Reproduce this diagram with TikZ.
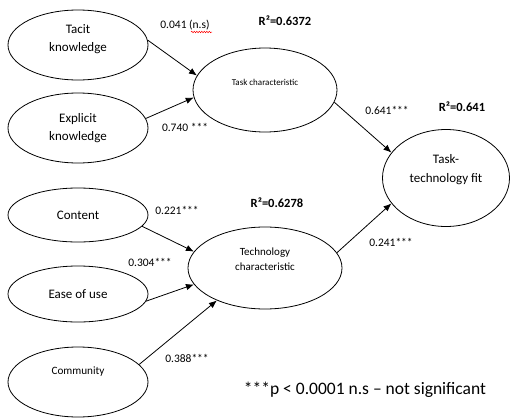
\documentclass[tikz,border=0pt]{standalone}
\usepackage{fontspec}
\setmainfont{Carlito}
\usetikzlibrary{shapes.geometric,arrows.meta,decorations.pathmorphing}
\begin{document}
\begin{tikzpicture}[x=1pt,y=-1pt,
  construct/.style={draw, ellipse, line width=0.8pt, inner sep=0pt, align=center},
  big/.style={font=\fontsize{13}{18}\selectfont},
  coef/.style={font=\fontsize{11.5}{14}\selectfont, inner sep=0pt},
  rsq/.style={font=\bfseries\fontsize{12.5}{15}\selectfont, inner sep=0pt},
  pathway/.style={-{Latex[length=8pt,width=6.5pt]}, line width=0.8pt}]
\useasboundingbox (0,0) rectangle (515,418);
% constructs
\node[construct, big, minimum width=140pt, minimum height=70pt, text depth=13pt] (tacit) at (78,45) {Tacit\\knowledge};
\node[construct, big, minimum width=140pt, minimum height=70pt] (explicit) at (78,128) {Explicit\\knowledge};
\node[construct, font=\fontsize{9}{11}\selectfont, minimum width=144pt, minimum height=84pt, text depth=16pt] (task) at (265,90) {Task characteristic};
\node[construct, font=\fontsize{13}{19}\selectfont, minimum width=127pt, minimum height=97pt, text depth=19pt] (ttf) at (446,178) {Task-\\technology fit};
\node[construct, big, minimum width=140pt, minimum height=54pt] (content) at (78,215) {Content};
\node[construct, big, minimum width=140pt, minimum height=56pt] (ease) at (78,294) {Ease of use};
\node[construct, font=\fontsize{11.2}{14}\selectfont, minimum width=140pt, minimum height=70pt, text depth=22pt] (community) at (78,382) {Community};
\node[construct, font=\fontsize{11}{15}\selectfont, minimum width=154pt, minimum height=82pt, text depth=18.5pt] (tech) at (265,268) {Technology\\characteristic};
% paths
\draw[pathway] (tacit.4) -- (task.168);
\draw[pathway] (explicit.8) -- (task.186);
\draw[pathway] (task.-10) -- (ttf.155);
\draw[pathway] (tech.12) -- (ttf.205);
\draw[pathway] (content.-10) -- (tech.167);
\draw[pathway] (ease.-6) -- (tech.193);
\draw[pathway] (community.16) -- (tech.214);
% coefficients
\node[coef] (c1) at (185,25) {0.041 (n.s)};
\draw[red, line width=0.5pt, decorate, decoration={snake, amplitude=0.7pt, segment length=2.5pt}] (191,32) -- (212,32);
\node[coef] (c2) at (185,127) {0.740 ***};
\node[coef] (c3) at (387,110) {0.641***};
\node[coef] (c4) at (391,242) {0.241***};
\node[coef] (c5) at (177,210) {0.221***};
\node[coef] (c6) at (150,262) {0.304***};
\node[coef] (c7) at (187,358) {0.388***};
% R squared
\node[rsq] (r1) at (285,21) {R²=0.6372};
\node[rsq] (r2) at (462,107) {R²=0.641};
\node[rsq] (r3) at (277,203) {R²=0.6278};
% note
\node[font=\fontsize{17.5}{20}\selectfont, inner sep=0pt] (note) at (365,390) {***p < 0.0001 n.s – not significant};
\end{tikzpicture}
\end{document}
